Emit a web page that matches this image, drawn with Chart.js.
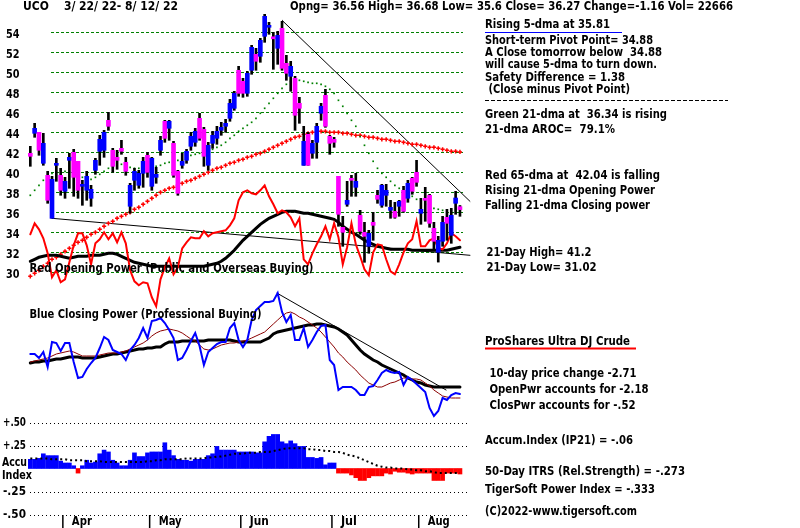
<!DOCTYPE html>
<html>
<head>
<meta charset="utf-8">
<script src="https://cdn.jsdelivr.net/npm/chart.js@4.4.0/dist/chart.umd.min.js"></script>
<style>
  html, body { margin: 0; padding: 0; background: #fff; }
  #wrap { width: 800px; height: 528px; }
</style>
</head>
<body>
<div id="wrap"><canvas id="uco-chart" width="800" height="528"></canvas></div>
<script>
// UCO daily bars 3/22/22 - 8/12/22
const open  = [41.9,43.9,44.0,40.9,39.7,35.4,40.7,39.7,38.1,41.2, 42.0,41.1,38.6,38.2,37.4,40.2,42.1,42.2,45.2,42.2,
               41.5,42.4,41.0,36.6,39.2,38.7,39.9,41.7,38.6,39.5, 42.2,45.1,44.4,42.9,40.1,40.7,41.2,42.6,43.0,45.4,
               44.3,40.7,42.9,43.4,44.2,44.6,45.4,46.4,50.2,49.1, 47.9,50.2,51.8,51.6,53.6,54.5,53.45,52.4,54.4,50.9,
               49.6,49.4,46.9,40.7,43.8,41.9,43.0,45.9,47.7,43.6, 43.3,39.6,34.5,36.8,39.3,38.5,35.7,34.0,32.6,35.0,
               37.7,36.7,37.7,36.2,36.1,36.6,38.2,37.4,39.4,40.0, 35.9,37.3,37.7,34.4,32.0,33.1,35.5,33.7,36.9,36.56];
const high  = [42.6,44.9,44.0,43.9,40.1,39.6,41.4,40.4,39.5,41.9, 42.3,41.1,39.2,40.1,38.7,41.4,43.7,44.2,46.0,42.4,
               42.2,43.2,41.5,38.9,40.4,40.2,41.5,42.0,41.5,40.5, 43.6,45.2,45.2,43.1,40.2,41.9,42.3,44.0,44.4,45.9,
               44.5,43.0,44.1,44.6,45.0,45.3,47.3,48.1,50.6,49.4, 50.1,52.7,52.4,53.4,55.8,55.0,54.0,54.1,55.1,51.7,
               51.1,49.6,47.5,44.6,44.0,43.2,44.9,46.9,48.3,43.7, 43.5,39.6,35.6,39.1,39.7,39.9,36.2,35.0,34.2,36.0,
               38.2,38.8,38.8,37.2,37.0,37.2,38.6,39.2,39.5,41.2, 37.4,38.5,37.8,35.0,33.6,35.6,36.3,36.4,38.1,36.68];
const low   = [40.6,43.5,41.7,40.7,36.9,35.4,39.1,37.7,37.4,38.4, 37.6,37.4,36.7,37.2,36.6,39.8,40.7,41.5,44.2,40.0,
               40.3,41.8,39.7,35.9,38.2,38.4,38.5,39.5,38.2,38.9, 41.7,43.0,43.2,39.5,37.7,40.4,40.9,42.2,42.6,43.2,
               40.6,40.2,42.4,42.8,43.7,44.0,45.1,46.2,47.6,47.5, 47.6,49.8,50.2,51.0,53.0,53.8,50.3,50.8,50.2,49.2,
               48.1,44.2,44.9,40.7,40.7,41.4,41.4,45.2,44.5,41.8, 42.5,34.6,32.6,36.6,37.6,37.6,33.8,31.0,31.9,33.2,
               36.9,36.5,36.6,35.4,35.4,35.6,36.0,37.0,37.8,38.6, 34.8,35.1,34.5,32.2,31.02,32.6,33.2,32.9,35.8,35.6];
const close = [41.6,44.4,42.2,42.9,37.2,39.3,40.9,38.2,39.1,41.5, 39.5,38.2,38.7,39.6,38.3,41.2,43.3,44.0,44.6,40.6,
               41.2,42.1,40.1,38.7,40.1,39.9,41.1,40.0,41.4,39.8, 43.2,43.4,45.1,39.7,37.9,41.1,42.1,43.6,44.1,43.4,
               41.6,42.7,43.7,44.1,44.5,44.9,46.9,47.9,47.9,47.9, 49.9,52.5,51.1,53.2,55.6,54.6,53.35,53.7,50.4,49.9,
               50.6,45.7,46.4,43.1,40.7,42.9,44.6,46.6,44.6,42.9, 43.0,35.8,34.0,37.2,39.2,39.1,34.1,33.6,33.9,34.7,
               37.3,38.7,38.2,36.5,35.5,37.1,36.1,38.9,38.1,39.0, 36.3,37.2,34.9,33.1,33.2,35.0,34.9,35.7,37.43,36.27];

// moving averages of price
const ma21 = [37.7,38.2,38.7,39.2,39.6,39.9,40.1,40.2,40.1,40.0, 39.9,39.7,39.5,39.3,39.3,39.5,39.8,40.1,40.4,40.6,
              40.7,40.8,40.7,40.5,40.4,40.4,40.4,40.5,40.6,40.6, 40.7,40.9,41.0,41.1,41.2,41.3,41.5,41.7,41.8,41.9,
              42.0,42.1,42.3,42.5,42.7,43.0,43.4,43.7,44.1,44.4, 44.7,45.0,45.4,45.9,46.4,46.9,47.4,47.9,48.4,48.8,
              49.1,49.2,49.2,49.1,49.0,48.9,48.9,48.8,48.6,48.3, 47.9,47.2,46.6,45.9,45.2,44.6,43.6,42.7,41.9,41.1,
              40.4,39.9,39.5,39.1,38.7,38.4,38.1,37.8,37.6,37.3, 37.0,36.8,36.6,36.4,36.3,36.2,36.2,36.2,36.3,36.34];
const ma65 = [29.6,29.9,30.2,30.6,30.9,31.3,31.5,31.8,32.1,32.4, 32.7,33.0,33.2,33.5,33.8,34.0,34.3,34.6,34.9,35.1,
              35.4,35.6,35.8,36.0,36.3,36.5,36.8,37.1,37.4,37.7, 38.0,38.2,38.4,38.5,38.7,38.9,39.1,39.2,39.4,39.6,
              39.8,40.0,40.2,40.4,40.5,40.7,40.9,41.0,41.2,41.3, 41.5,41.6,41.8,41.9,42.1,42.3,42.5,42.7,42.9,43.1,
              43.3,43.5,43.6,43.8,43.9,44.0,44.0,44.1,44.1,44.0, 44.0,44.0,43.9,43.9,43.8,43.7,43.7,43.6,43.5,43.5,
              43.4,43.3,43.3,43.2,43.1,43.1,43.0,42.9,42.8,42.8, 42.7,42.6,42.5,42.5,42.4,42.3,42.2,42.1,42.1,42.04];

// opening power (red) and its 21-dma (black), drawn on the price panel
const openPower = [33.8,34.9,34.3,33.4,31.9,29.5,30.2,29.0,29.3,31.0, 32.7,33.9,33.9,32.7,30.8,32.9,33.3,34.0,33.3,33.9,
                   33.0,34.0,32.9,30.2,29.1,28.7,29.0,28.9,27.5,26.6, 29.3,30.5,31.4,29.8,30.5,32.4,33.0,33.5,33.4,33.4,
                   34.1,33.6,33.9,34.0,34.1,34.2,34.7,35.4,37.2,38.0, 38.2,37.9,37.8,38.2,38.7,37.6,36.8,35.9,36.2,36.0,
                   35.5,34.6,35.4,31.3,30.8,31.9,32.8,33.6,34.6,33.3, 34.9,33.5,30.8,32.5,34.9,32.8,31.6,30.3,29.7,32.0,
                   32.8,32.7,31.3,30.1,29.8,30.8,32.0,32.9,33.3,35.1, 32.6,32.6,33.2,33.4,32.4,32.3,32.9,33.9,33.6,33.2];
const openPowerMa = [31.1,31.3,31.5,31.6,31.7,31.7,31.7,31.6,31.5,31.4, 31.5,31.6,31.6,31.6,31.7,31.7,31.7,31.8,31.9,31.9,
                     31.8,31.6,31.4,31.2,31.0,30.9,30.8,30.7,30.6,30.6, 30.6,30.6,30.6,30.6,30.6,30.6,30.6,30.6,30.6,30.6,
                     30.6,30.7,30.8,30.9,31.1,31.4,31.8,32.2,32.7,33.2, 33.6,34.0,34.4,34.8,35.1,35.4,35.6,35.8,36.0,36.1,
                     36.1,36.1,36.0,35.9,35.9,35.8,35.7,35.6,35.5,35.4, 35.3,35.0,34.6,34.3,34.0,33.8,33.5,33.2,33.0,32.8,
                     32.6,32.5,32.4,32.3,32.3,32.3,32.3,32.3,32.2,32.2, 32.2,32.2,32.2,32.2,32.2,32.2,32.2,32.3,32.4,32.5];

// closing power (blue) with fast (brown) and slow (black) averages
const closePower = [66,66,62,68,53,78,77,69,77,77, 58,42,43,51,57,62,72,83,80,70, 68,66,60,70,75,82,92,82,99,100,
                    102,97,90,82,60,62,70,79,87,74, 55,68,72,76,78,78,92,97,80,73, 80,100,110,114,118,118,119,127,108,98,
                    105,80,80,92,73,80,88,94,95,60, 55,30,33,33,33,30,25,25,33,34, 40,47,50,48,47,48,35,43,40,36,
                    32,28,12,4,9,22,20,25,27,26];
const closePowerFast = [58,59,60,61,62,64,66,67,68,69, 68,66,64,64,64,64,65,66,67,67, 67,68,69,71,73,75,77,80,84,87,
                        89,90,91,90,89,87,84,81,79,75, 71,70,71,73,75,76,77,77,78,79, 80,82,84,86,88,92,96,100,104,107,
                        108,106,103,101,98,95,92,88,83,78, 73,67,63,58,54,50,45,41,37,35, 33,33,35,37,38,40,42,42,41,41,
                        40,37,34,30,27,24,23,22,22,22];
const closePowerSlow = [57,58,58,59,59,60,61,61,62,63, 63,63,62,62,62,62,63,64,65,66, 66,67,68,69,70,71,71,72,72,73,
                        73,76,78,78,78,79,79,79,79,79, 79,80,80,80,80,80,80,79,78,78, 78,78,78,78,80,82,86,88,89,90,
                        91,92,93,94,95,95,96,96,95,94, 93,91,88,85,80,75,70,66,63,60, 58,55,53,51,49,47,45,42,40,38,
                        37,35,34,33,33,33,33,33,33,33];

// accumulation index (IP21) and its dotted average
const accum = [0.10,0.10,0.11,0.16,0.14,0.14,0.14,0.08,0.06,0.06, 0.03,-0.05,0.03,0.09,0.06,0.07,0.16,0.20,0.18,0.09,
               0.06,0.03,0.03,0.09,0.17,0.13,0.13,0.17,0.18,0.18, 0.18,0.28,0.20,0.14,0.10,0.09,0.09,0.08,0.10,0.10,
               0.10,0.14,0.16,0.24,0.20,0.20,0.20,0.20,0.18,0.18, 0.18,0.18,0.17,0.17,0.29,0.35,0.37,0.37,0.29,0.27,
               0.30,0.27,0.24,0.24,0.12,0.12,0.11,0.12,0.04,0.06, 0.06,-0.05,-0.05,-0.05,-0.07,-0.10,-0.13,-0.13,-0.10,-0.08,
               -0.08,-0.08,-0.05,-0.06,-0.03,-0.04,-0.04,-0.05,-0.06,-0.05, -0.05,-0.05,-0.05,-0.13,-0.13,-0.13,-0.05,-0.05,-0.05,-0.06];
const accumMa = [0.11,0.11,0.11,0.11,0.11,0.10,0.10,0.10,0.10,0.09, 0.09,0.09,0.09,0.08,0.08,0.08,0.08,0.07,0.07,0.07,
                 0.07,0.07,0.07,0.07,0.07,0.07,0.07,0.08,0.08,0.09, 0.09,0.10,0.10,0.10,0.10,0.10,0.11,0.11,0.11,0.11,
                 0.11,0.12,0.12,0.13,0.13,0.14,0.15,0.16,0.16,0.16, 0.17,0.17,0.17,0.18,0.18,0.18,0.19,0.20,0.21,0.22,
                 0.22,0.22,0.22,0.22,0.21,0.21,0.20,0.20,0.19,0.19, 0.18,0.18,0.17,0.15,0.14,0.13,0.11,0.09,0.07,0.05,
                 0.03,0.02,0.01,0.01,0.00,0.00,0.00,-0.01,-0.01,-0.02, -0.02,-0.03,-0.03,-0.04,-0.05,-0.05,-0.05,-0.05,-0.05,-0.05];

// trend lines: [day index, value]
const supportLine = [[5, 35.4], [101.3, 31.7]];
const resistLine = [[58, 55.2], [101.3, 37.1]];
const cpTrendLine = [[56.8, 127], [95.8, 30]];

const months = ['Apr', 'May', 'Jun', 'Jul', 'Aug'];
const monthStart = [8, 28, 49, 70, 90];
const priceTicks = [54, 52, 50, 48, 46, 44, 42, 40, 38, 36, 34, 32, 30];
const accumTicks = [0.5, 0.25, -0.25, -0.5];
const accumTickLabels = ['+.50', '+.25', '-.25', '-.50'];

const headerLeft = 'UCO    3/ 22/ 22- 8/ 12/ 22';
const headerRight = 'Opng= 36.56 High= 36.68 Low= 35.6 Close= 36.27 Change=-1.16 Vol= 22666';

const FONT = '"DejaVu Sans", "Liberation Sans", sans-serif';

function fitText(ctx, text, x, y, width, size) {
  ctx.font = 'bold ' + size + 'px ' + FONT;
  ctx.textBaseline = 'middle';
  ctx.textAlign = 'left';
  const w = ctx.measureText(text).width;
  ctx.save();
  ctx.translate(x, y);
  ctx.scale(width / w, 1);
  ctx.fillText(text, 0, 0);
  ctx.restore();
}

function hline(ctx, x1, x2, y, color, width, dash) {
  ctx.save();
  ctx.strokeStyle = color;
  ctx.lineWidth = width;
  ctx.setLineDash(dash || []);
  ctx.beginPath();
  ctx.moveTo(x1, y);
  ctx.lineTo(x2, y);
  ctx.stroke();
  ctx.restore();
}

const panelPlugin = {
  id: 'tigerPanels',
  beforeDatasetsDraw(chart) {
    const ctx = chart.ctx;
    const yP = chart.scales.yP, yAI = chart.scales.yAI, x = chart.scales.x;
    priceTicks.forEach(v => {
      const y = Math.round(yP.getPixelForValue(v)) + 0.5;
      hline(ctx, 51, 463, y, '#008000', 1, [3, 2]);
    });
    accumTicks.forEach(v => {
      const y = Math.round(yAI.getPixelForValue(v)) + 0.5;
      hline(ctx, 30, 468, y, '#000', 1, [1, 3]);
    });
    ctx.save();
    ctx.strokeStyle = '#000';
    ctx.lineWidth = 1.5;
    monthStart.forEach(d => {
      const px = x.getPixelForValue(d - 0.5);
      ctx.beginPath();
      ctx.moveTo(px, 515);
      ctx.lineTo(px, 528);
      ctx.stroke();
    });
    ctx.restore();
  },
  afterDatasetsDraw(chart) {
    const ctx = chart.ctx;
    const yP = chart.scales.yP, yAI = chart.scales.yAI, x = chart.scales.x;
    ctx.fillStyle = '#000';

    fitText(ctx, headerLeft, 23, 7, 155, 12);
    fitText(ctx, headerRight, 290, 7, 443, 12);

    priceTicks.forEach(v => {
      fitText(ctx, String(v), 6, yP.getPixelForValue(v) + 2.4, 13.5, 12);
    });
    accumTicks.forEach((v, k) => {
      fitText(ctx, accumTickLabels[k], 3, yAI.getPixelForValue(v), 23, 12);
    });
    fitText(ctx, 'Accu', 2, 462.5, 25, 12);
    fitText(ctx, 'Index', 2, 475.5, 30, 12);

    fitText(ctx, 'Red Opening Power (Public and Overseas Buying)', 29.5, 268.5, 284, 12);
    fitText(ctx, 'Blue Closing Power (Professional Buying)', 29.5, 315, 232, 12);

    months.forEach((m, k) => {
      fitText(ctx, m, x.getPixelForValue(monthStart[k] - 0.5) + 9, 521.5, [20, 23, 19, 16, 22][k], 12);
    });

    const notes = [
      ['Rising 5-dma at 35.81', 485, 25, 125],
      ['Short-term Pivot Point= 34.88', 485, 40.7, 168],
      ['A Close tomorrow below  34.88', 485, 52.5, 177],
      ['will cause 5-dma to turn down.', 485, 64.7, 172],
      ['Safety Difference = 1.38', 485, 78, 140],
      [' (Close minus Pivot Point)', 485, 89.7, 145],
      ['Green 21-dma at  36.34 is rising', 485, 115.3, 182],
      ['21-dma AROC=  79.1%', 485, 129.7, 130],
      ['Red 65-dma at  42.04 is falling', 485, 175.7, 175],
      ['Rising 21-dma Opening Power', 485, 191, 170],
      ['Falling 21-dma Closing power', 485, 206.3, 165],
      ['21-Day High= 41.2', 486.5, 252.7, 105],
      ['21-Day Low= 31.02', 486.5, 267.7, 110],
      ['ProShares Ultra DJ Crude', 485, 341.7, 145],
      ['10-day price change -2.71', 489.5, 374.3, 147],
      ['OpenPwr accounts for -2.18', 489.5, 390, 159],
      ['ClosPwr accounts for -.52', 489.5, 406, 146],
      ['Accum.Index (IP21) = -.06', 485, 440.7, 148],
      ['50-Day ITRS (Rel.Strength) = -.273', 485, 471.7, 200],
      ['TigerSoft Power Index = -.333', 485, 490, 170],
      ['(C)2022-www.tigersoft.com', 485, 512.3, 152]
    ];
    notes.forEach(n => fitText(ctx, n[0], n[1], n[2], n[3], 12));

    hline(ctx, 485, 622, 32.5, '#0000ff', 1);
    hline(ctx, 485, 728, 100.5, '#000', 1, [4, 2]);
    hline(ctx, 485, 636, 348.5, '#ff0000', 2);
  }
};

const days = close.map((_, i) => i);
const pts = arr => arr.map((v, i) => ({ x: i, y: v }));
const seg = arr => arr.map(p => ({ x: p[0], y: p[1] }));

const lineBase = { type: 'line', pointRadius: 0, tension: 0, fill: false, borderCapStyle: 'round' };

new Chart(document.getElementById('uco-chart'), {
  type: 'bar',
  data: {
    datasets: [
      // price panel
      { label: 'Body', yAxisID: 'yP', order: 0, grouped: false, barThickness: 4, minBarLength: 2,
        data: days.map(i => ({ x: i, y: [open[i], close[i]] })),
        backgroundColor: days.map(i => close[i] >= open[i] ? '#0000ff' : '#ff00ff'), borderWidth: 0 },
      { label: 'Range', yAxisID: 'yP', order: 1, grouped: false, barThickness: 2,
        data: days.map(i => ({ x: i, y: [low[i], high[i]] })), backgroundColor: '#000', borderWidth: 0 },
      { ...lineBase, label: 'Opening Power', yAxisID: 'yOP', order: 2, data: pts(openPower),
        borderColor: '#ff0000', borderWidth: 2 },
      { ...lineBase, label: 'Opening Power 21-dma', yAxisID: 'yOP', order: 3, data: pts(openPowerMa),
        borderColor: '#000', borderWidth: 3 },
      { ...lineBase, label: '21-dma', yAxisID: 'yP', order: 4, data: pts(ma21), showLine: false,
        pointRadius: 1.2, pointStyle: 'rect', pointBackgroundColor: '#008000', pointBorderWidth: 0 },
      { ...lineBase, label: '65-dma', yAxisID: 'yP', order: 5, data: pts(ma65), showLine: false,
        pointRadius: 2.1, pointStyle: 'cross', pointBorderColor: '#ff0000', pointBorderWidth: 1.5 },
      { ...lineBase, label: 'Support', yAxisID: 'yP', order: 6, data: seg(supportLine),
        borderColor: '#000', borderWidth: 1 },
      { ...lineBase, label: 'Resistance', yAxisID: 'yP', order: 6, data: seg(resistLine),
        borderColor: '#000', borderWidth: 1 },
      // closing power panel
      { ...lineBase, label: 'Closing Power', yAxisID: 'yCP', order: 2, data: pts(closePower),
        borderColor: '#0000ff', borderWidth: 2 },
      { ...lineBase, label: 'CP fast', yAxisID: 'yCP', order: 3, data: pts(closePowerFast),
        borderColor: '#8b0000', borderWidth: 1 },
      { ...lineBase, label: 'CP slow', yAxisID: 'yCP', order: 4, data: pts(closePowerSlow),
        borderColor: '#000', borderWidth: 3 },
      { ...lineBase, label: 'CP trend', yAxisID: 'yCP', order: 6, data: seg(cpTrendLine),
        borderColor: '#000', borderWidth: 1 },
      // accumulation index panel
      { label: 'Accum.Index', yAxisID: 'yAI', order: 1, grouped: false, barThickness: 4,
        data: pts(accum), backgroundColor: accum.map(v => v >= 0 ? '#0000ff' : '#ff0000'), borderWidth: 0 },
      { ...lineBase, label: 'Accum MA', yAxisID: 'yAI', order: 0, data: pts(accumMa),
        borderColor: '#000', borderWidth: 2, borderDash: [2, 3], borderCapStyle: 'butt' }
    ]
  },
  options: {
    responsive: false,
    animation: false,
    devicePixelRatio: 1,
    layout: { padding: 0, autoPadding: false },
    plugins: { legend: { display: false }, tooltip: { enabled: false }, title: { display: false } },
    scales: {
      x: { type: 'linear', display: false, offset: false, min: -6.982, max: 177.35 },
      yP: { type: 'linear', display: false, min: 4.43, max: 57.23 },
      yOP: { type: 'linear', display: false, min: 4.43, max: 57.23 },
      yCP: { type: 'linear', display: false, min: -108, max: 420 },
      yAI: { type: 'linear', display: false, min: -0.6467, max: 5.0924 }
    }
  },
  plugins: [panelPlugin]
});
</script>
</body>
</html>
